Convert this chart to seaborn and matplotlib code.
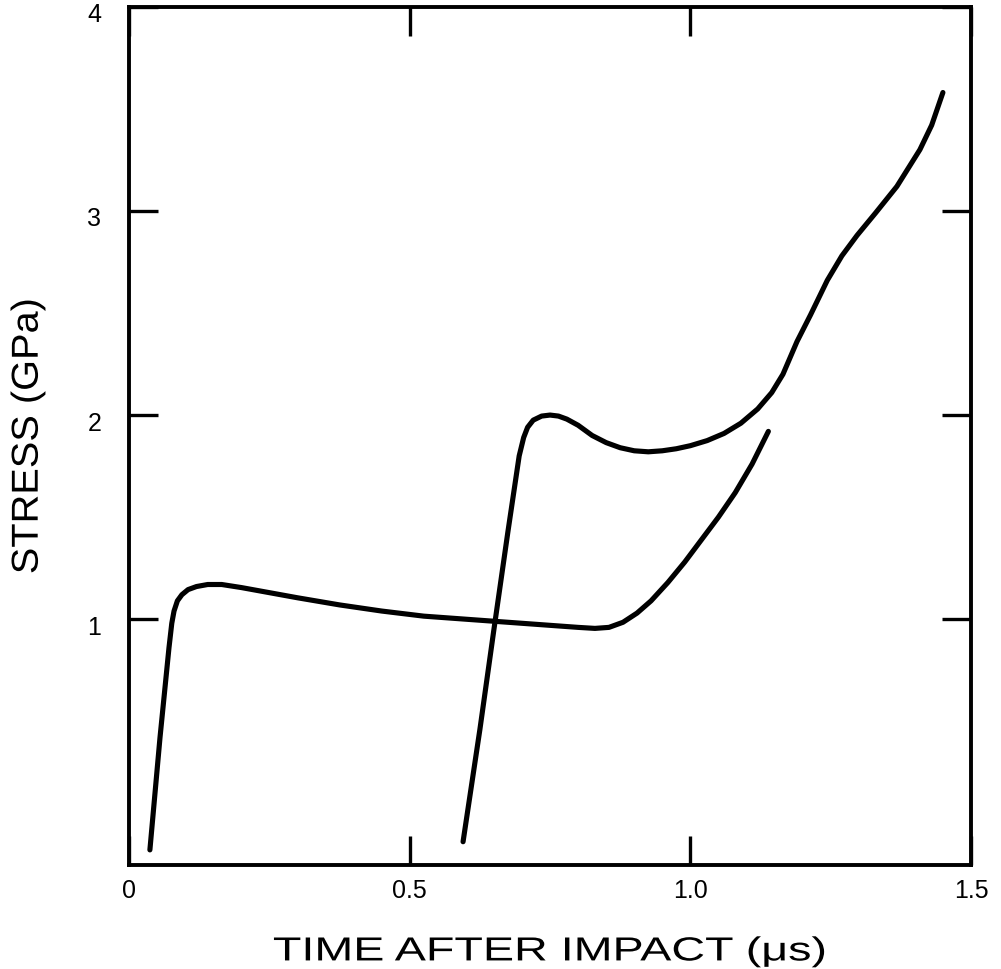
import matplotlib
matplotlib.use("Agg")
import matplotlib.pyplot as plt
import seaborn as sns
import pandas as pd
from matplotlib.transforms import ScaledTranslation, Affine2D
from matplotlib.patheffects import AbstractPathEffect

# ---- data ----
curve1_time = [0.037, 0.055, 0.071, 0.076, 0.080, 0.086, 0.094, 0.105, 0.120, 0.140,
               0.165, 0.200, 0.250, 0.300, 0.375, 0.450, 0.525, 0.600, 0.675,
               0.750, 0.800, 0.830, 0.855, 0.880, 0.905, 0.930, 0.960, 0.990,
               1.020, 1.050, 1.080, 1.110, 1.139]
curve1_stress = [-0.13, 0.42, 0.86, 0.98, 1.04, 1.09, 1.12, 1.145, 1.16, 1.17,
                 1.17, 1.155, 1.13, 1.105, 1.07, 1.04, 1.015, 1.00, 0.985,
                 0.97, 0.96, 0.955, 0.96, 0.985, 1.03, 1.09, 1.18, 1.28,
                 1.39, 1.50, 1.62, 1.76, 1.92]

curve2_time = [0.595, 0.625, 0.650, 0.675, 0.695, 0.703, 0.710, 0.720, 0.735, 0.750,
               0.765, 0.780, 0.800, 0.825, 0.850, 0.875, 0.900, 0.925, 0.950,
               0.975, 1.000, 1.030, 1.060, 1.090, 1.120, 1.145, 1.165, 1.190,
               1.214, 1.244, 1.270, 1.297, 1.330, 1.368, 1.409, 1.430, 1.450]
curve2_stress = [-0.09, 0.46, 0.95, 1.43, 1.80, 1.89, 1.94, 1.975, 1.995, 2.00,
                 1.995, 1.98, 1.95, 1.90, 1.865, 1.84, 1.825, 1.82, 1.825,
                 1.835, 1.85, 1.875, 1.91, 1.96, 2.03, 2.11, 2.20, 2.36,
                 2.49, 2.66, 2.78, 2.88, 2.99, 3.12, 3.30, 3.42, 3.58]

x_ticks = [0, 0.5, 1.0, 1.5]
x_tick_labels = ["0", "0.5", "1.0", "1.5"]
y_ticks = [1, 2, 3, 4]
y_tick_labels = ["1", "2", "3", "4"]

x_label = "TIME AFTER IMPACT (μs)"
y_label = "STRESS (GPa)"


class Stretch(AbstractPathEffect):
    """Draw the text path stretched about its own centre (wide lettering)."""

    def __init__(self, sx=1.0, sy=1.0):
        super().__init__()
        self.sx, self.sy = sx, sy

    def draw_path(self, renderer, gc, tpath, affine, rgbFace=None):
        ext = tpath.get_extents(affine)
        cx = (ext.x0 + ext.x1) / 2
        cy = (ext.y0 + ext.y1) / 2
        extra = Affine2D().translate(-cx, -cy).scale(self.sx, self.sy).translate(cx, cy)
        renderer.draw_path(gc, tpath, affine + extra, rgbFace)


df1 = pd.DataFrame({"t": curve1_time, "s": curve1_stress})
df2 = pd.DataFrame({"t": curve2_time, "s": curve2_stress})

sns.set_style("ticks")
plt.rcParams["font.family"] = ["Liberation Sans", "DejaVu Sans"]

fig = plt.figure(figsize=(10.01, 9.70), dpi=100)
ax = fig.add_axes([0.129, 0.107, 0.841, 0.885])

for df in (df1, df2):
    sns.lineplot(data=df, x="t", y="s", sort=False, estimator=None, ax=ax,
                 color="black", linewidth=3.7, solid_capstyle="round",
                 solid_joinstyle="round")

ax.set_xlim(0, 1.5)
ax.set_ylim(-0.205, 4)
ax.set_xticks(x_ticks)
ax.set_xticklabels(x_tick_labels, fontsize=18)
ax.set_yticks(y_ticks)
ax.set_yticklabels(y_tick_labels, fontsize=18)

for side in ["left", "right", "top", "bottom"]:
    ax.spines[side].set_visible(True)
    ax.spines[side].set_linewidth(2.8)
    ax.spines[side].set_color("black")

ax.tick_params(axis="both", which="major", direction="in", length=21, width=2.4,
               color="black", top=True, right=True, labeltop=False,
               labelright=False, labelcolor="black")
ax.tick_params(axis="x", pad=9)
ax.tick_params(axis="y", pad=20)

offset = ScaledTranslation(0, -5 / 100, fig.dpi_scale_trans)
for lab in ax.get_yticklabels():
    lab.set_transform(lab.get_transform() + offset)

xl = ax.set_xlabel(x_label, fontsize=24, labelpad=25, color="black")
xl.set_path_effects([Stretch(sx=1.4)])
yl = ax.set_ylabel(y_label, fontsize=27, labelpad=30, color="black")
yl.set_path_effects([Stretch(sy=1.06)])

fig.savefig("out.png", dpi=100, facecolor="white")
